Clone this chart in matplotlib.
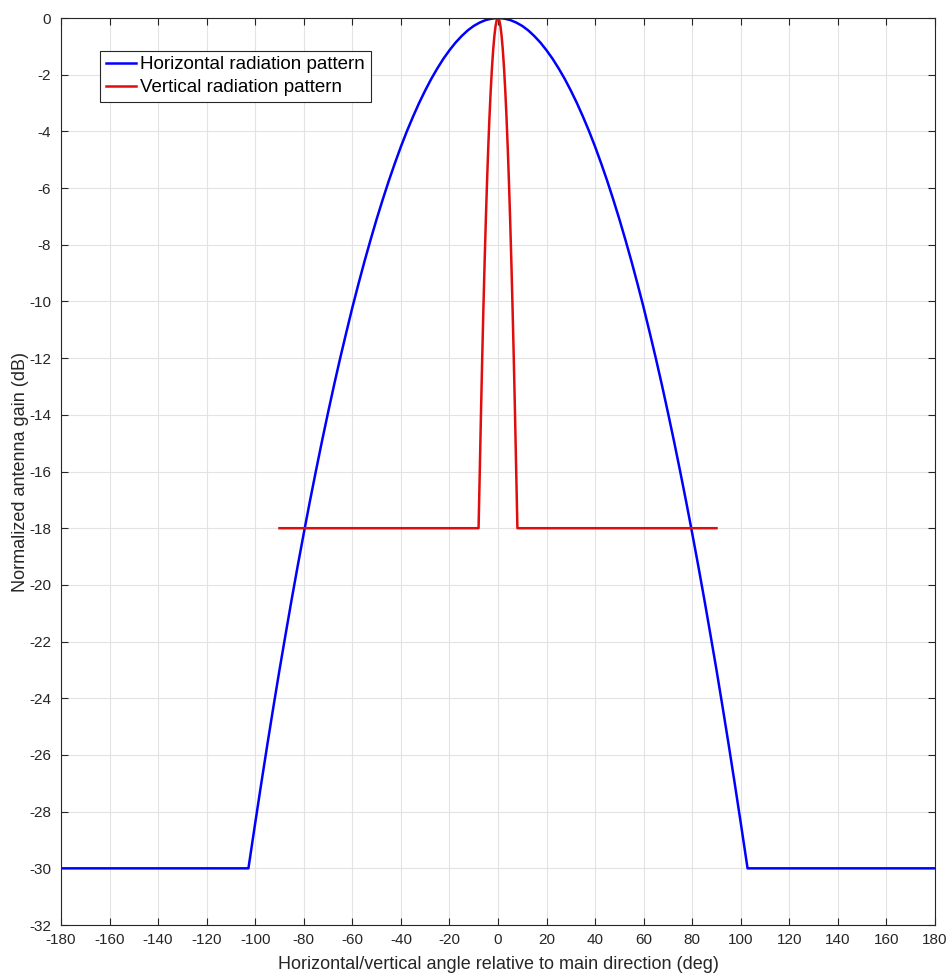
import matplotlib
matplotlib.use("Agg")
import matplotlib.pyplot as plt

plt.rcParams["font.family"] = ["Liberation Sans", "DejaVu Sans"]
plt.rcParams["axes.unicode_minus"] = False

# values (deg, dB), right half mirrored for the left
h_half_angle = [0, 2.5, 5, 7.5, 10, 12.5, 15, 17.5, 20, 22.5, 25, 27.5, 30, 32.5, 35,
                37.5, 40, 42.5, 45, 47.5, 50, 52.5, 55, 57.5, 60, 62.5, 65, 67.5, 70,
                72.5, 75, 77.5, 80, 82.5, 85, 87.5, 90, 92.5, 95, 97.5, 100, 102.8, 180]
h_half_gain = [0, -0.02, -0.07, -0.16, -0.28, -0.44, -0.64, -0.87, -1.14, -1.44, -1.78,
               -2.15, -2.56, -3.0, -3.48, -3.99, -4.54, -5.13, -5.75, -6.41, -7.1, -7.83,
               -8.59, -9.39, -10.22, -11.1, -12.0, -12.94, -13.92, -14.93, -15.98, -17.06,
               -18.18, -19.33, -20.52, -21.75, -23.0, -24.3, -25.63, -27.0, -28.4, -30, -30]

v_half_angle = [0, 0.5, 1, 1.5, 2, 2.5, 3, 3.5, 4, 4.5, 5, 5.5, 6, 6.5, 7, 7.5, 8, 90]
v_half_gain = [0, -0.07, -0.28, -0.64, -1.14, -1.78, -2.56, -3.48, -4.54, -5.75, -7.1,
               -8.59, -10.22, -12.0, -13.92, -15.98, -18, -18]

h_angle = [-a for a in h_half_angle[::-1]] + h_half_angle[1:]
h_gain = h_half_gain[::-1] + h_half_gain[1:]
v_angle = [-a for a in v_half_angle[::-1]] + v_half_angle[1:]
v_gain = v_half_gain[::-1] + v_half_gain[1:]

x_ticks = list(range(-180, 181, 20))
y_ticks = list(range(-32, 1, 2))

fig = plt.figure(figsize=(9.5, 9.73), dpi=100)
ax = fig.add_axes([0.0642, 0.0493, 0.92, 0.9322])

ax.plot(h_angle, h_gain, color=(0, 0, 1), linewidth=1.8, label="Horizontal radiation pattern")
ax.plot(v_angle, v_gain, color=(0.88, 0.05, 0.05), linewidth=1.8, label="Vertical radiation pattern")

ax.set_xlim(-180, 180)
ax.set_ylim(-32, 0)
ax.set_xticks(x_ticks)
ax.set_yticks(y_ticks)
ax.grid(True, color="#e3e3e3", linewidth=0.8)
ax.set_axisbelow(True)
ax.tick_params(direction="in", top=True, right=True, length=5, colors="#262626",
               labelsize=11, width=0.8)
ax.tick_params(axis="x", pad=6)
ax.tick_params(axis="y", pad=7)
for s in ax.spines.values():
    s.set_color("#262626")
    s.set_linewidth(0.8)

ax.set_xlabel("Horizontal/vertical angle relative to main direction (deg)",
              fontsize=13, color="#262626", labelpad=6)
ax.set_ylabel("Normalized antenna gain (dB)", fontsize=13, color="#262626")
ax.yaxis.set_label_coords(-0.037, 0.5)

leg = ax.legend(loc="upper left", bbox_to_anchor=(0.0445, 0.964), fontsize=13.5,
                fancybox=False, framealpha=1, edgecolor="#262626",
                borderpad=0.3, handlelength=1.6, handletextpad=0.25, labelspacing=0.3,
                borderaxespad=0)
leg.get_frame().set_linewidth(0.8)

fig.savefig("out.png", dpi=100)
